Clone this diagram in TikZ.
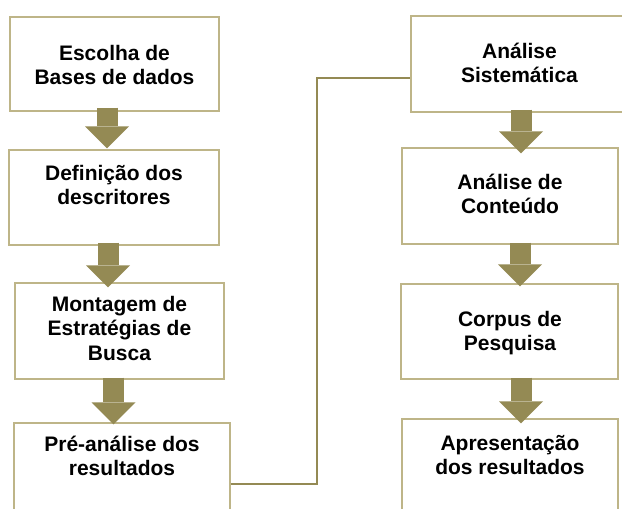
\documentclass[tikz,border=0pt]{standalone}
\usepackage{fontspec}
\setmainfont{Liberation Sans}
\usetikzlibrary{arrows.meta,calc}
\definecolor{boxline}{RGB}{190,181,136}
\definecolor{olivefill}{RGB}{148,138,84}
\tikzset{
  box/.style={draw=boxline, line width=1.3pt, fill=white, rectangle, inner sep=0pt},
  txt/.style={anchor=base, inner sep=0pt, font=\bfseries\fontsize{21}{24.5}\selectfont},
  blk/.style={draw=olivefill, line width=21pt, line cap=butt,
    -{Triangle[width=44pt,length=22pt,line width=0pt,fill=olivefill]}},
  conn/.style={draw=olivefill, line width=1.8pt}
}
\newcommand{\tl}[1]{\begin{tabular}[t]{@{}c@{}}#1\end{tabular}}
\begin{document}
\begin{tikzpicture}[x=1pt,y=-1pt]
\useasboundingbox (0,0) rectangle (622,509);
\clip (0,0) rectangle (622,509);
% boxes
\node[box, minimum width=209pt, minimum height=94pt] (b1) at (114.5,64) {};
\node[box, minimum width=210pt, minimum height=95pt] (b2) at (114,197.5) {};
\node[box, minimum width=209pt, minimum height=96pt] (b3) at (119.5,331) {};
\node[box, minimum width=216pt, minimum height=122pt] (b4) at (122,484) {};
\node[box, minimum width=217pt, minimum height=96pt] (b5) at (519.5,64) {};
\node[box, minimum width=216pt, minimum height=96pt] (b6) at (510,196) {};
\node[box, minimum width=217pt, minimum height=95pt] (b7) at (509.5,331.5) {};
\node[box, minimum width=216pt, minimum height=122pt] (b8) at (510,480) {};
% texts
\node[txt] (t1) at (114.5,60) {\tl{Escolha de\\Bases de dados}};
\node[txt] (t2) at (114,180) {\tl{Definição dos\\descritores}};
\node[txt] (t3) at (119.5,311) {\tl{Montagem de\\Estratégias de\\Busca}};
\node[txt] (t4) at (122,451) {\tl{Pré-análise dos\\resultados}};
\node[txt] (t5) at (519.5,58) {\tl{Análise\\Sistemática}};
\node[txt] (t6) at (510,189) {\tl{Análise de\\Conteúdo}};
\node[txt] (t7) at (510,326) {\tl{Corpus de\\Pesquisa}};
\node[txt] (t8) at (510,450) {\tl{Apresentação\\dos resultados}};
% connector
\draw[conn] (b4.east) -- ++(86,0) |- ($(b5.west)+(0,14)$);
% block arrows
\draw[blk] ($(b1.south)+(-7.5,-4)$) -- ($(b2.north)+(-7,-1)$);
\draw[blk] ($(b2.south)+(-6,-3)$) -- ($(b3.north)+(-11.5,5)$);
\draw[blk] ($(b3.south)+(-6,-2)$) -- ($(b4.north)+(-8.5,2)$);
\draw[blk] ($(b5.south)+(1.5,-3)$) -- ($(b6.north)+(11,6)$);
\draw[blk] ($(b6.south)+(10,-2)$) -- ($(b7.north)+(10.5,3)$);
\draw[blk] ($(b7.south)+(11.5,-2)$) -- ($(b8.north)+(11,5)$);
\end{tikzpicture}
\end{document}
